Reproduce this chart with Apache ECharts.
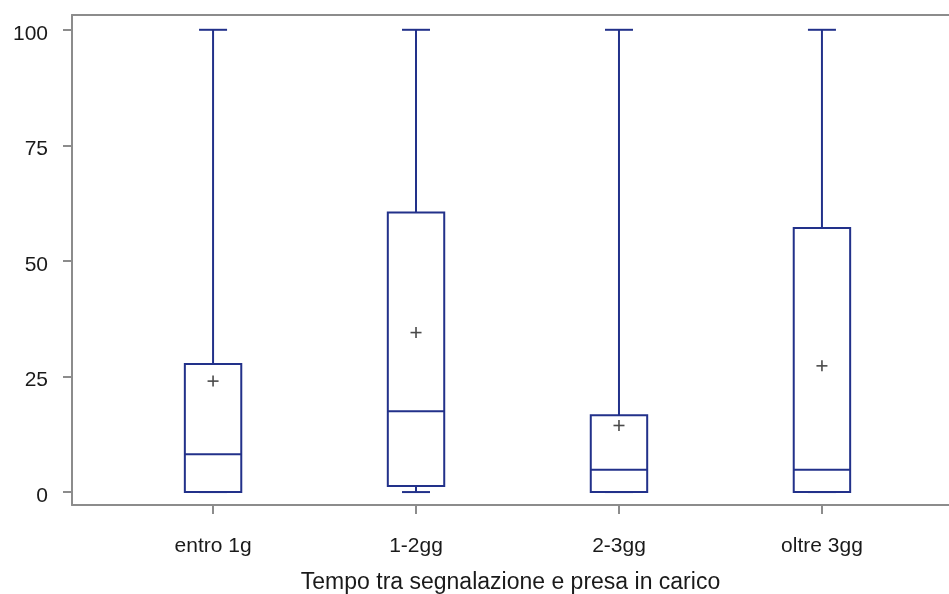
<!DOCTYPE html>
<html>
<head>
<meta charset="utf-8">
<script src="https://cdn.jsdelivr.net/npm/echarts@6/dist/echarts.min.js"></script>
<style>
    html, body { margin: 0; padding: 0; background: #fff; }
    #chart { width: 949px; height: 594px; }
</style>
</head>
<body>
<div id="chart"></div>
<script>
    // dati
    const categories = ['entro 1g', '1-2gg', '2-3gg', 'oltre 3gg']
    const whiskerLow = [0, 0, 0, 0]
    const q1 = [0, 1.3, 0, 0]
    const median = [8.2, 17.5, 4.8, 4.8]
    const q3 = [27.7, 60.5, 16.6, 57.1]
    const whiskerHigh = [100, 100, 100, 100]
    const means = [24.0, 34.5, 14.4, 27.3]
    const yTicks = [0, 25, 50, 75, 100]

    const boxColor = '#22318a'
    const axisColor = '#8c8c8c'
    const textColor = '#1a1a1a'
    const font = 'Liberation Sans, Arial, sans-serif'

    const boxData = categories.map((c, i) => [i, whiskerLow[i], q1[i], median[i], q3[i], whiskerHigh[i]])
    const meanData = categories.map((c, i) => [i, means[i]])

    function renderBox(params, api) {
        const i = api.value(0)
        const unit = api.size([1, 0])[0]
        const half = unit * 0.139
        const capHalf = unit * 0.069
        const lo = api.coord([i, api.value(1)])
        const b1 = api.coord([i, api.value(2)])
        const md = api.coord([i, api.value(3)])
        const b3 = api.coord([i, api.value(4)])
        const hi = api.coord([i, api.value(5)])
        const x = lo[0]
        const style = { stroke: boxColor, lineWidth: 2, fill: null }
        const line = (x1, y1, x2, y2) => ({ type: 'line', shape: { x1, y1, x2, y2 }, style })
        return {
            type: 'group',
            children: [
                line(x, b3[1], x, hi[1]),
                line(x - capHalf, hi[1], x + capHalf, hi[1]),
                line(x, b1[1], x, lo[1]),
                line(x - capHalf, lo[1], x + capHalf, lo[1]),
                { type: 'rect', shape: { x: x - half, y: b3[1], width: half * 2, height: b1[1] - b3[1] }, style },
                line(x - half, md[1], x + half, md[1])
            ]
        }
    }

    function renderMean(params, api) {
        const p = api.coord([api.value(0), api.value(1)])
        const s = 5.5
        const style = { stroke: '#4a4a4a', lineWidth: 1.6 }
        return {
            type: 'group',
            children: [
                { type: 'line', shape: { x1: p[0] - s, y1: p[1], x2: p[0] + s, y2: p[1] }, style },
                { type: 'line', shape: { x1: p[0], y1: p[1] - s, x2: p[0], y2: p[1] + s }, style }
            ]
        }
    }

    const chart = echarts.init(document.getElementById('chart'))
    chart.setOption({
        animation: false,
        grid: { left: 72, right: 0, top: 15, bottom: 89, containLabel: false, outerBoundsMode: 'none' },
        xAxis: [
            {
                type: 'value',
                min: -0.695,
                max: 3.626,
                position: 'bottom',
                splitLine: { show: false },
                axisLine: { show: true, onZero: false, lineStyle: { color: axisColor, width: 2 } },
                axisTick: { show: true, customValues: [0, 1, 2, 3], length: 9, lineStyle: { color: axisColor, width: 2 } },
                axisLabel: {
                    customValues: [0, 1, 2, 3],
                    formatter: v => categories[Math.round(v)],
                    margin: 31,
                    fontSize: 21,
                    fontFamily: font,
                    color: textColor
                },
                name: 'Tempo tra segnalazione e presa in carico',
                nameLocation: 'middle',
                nameGap: 66,
                nameTextStyle: { fontSize: 23, fontFamily: font, color: textColor }
            },
            {
                type: 'value',
                min: -0.695,
                max: 3.626,
                position: 'top',
                splitLine: { show: false },
                axisLine: { show: true, onZero: false, lineStyle: { color: axisColor, width: 2 } },
                axisTick: { show: false },
                axisLabel: { show: false }
            }
        ],
        yAxis: {
            type: 'value',
            min: -2.8,
            max: 103.2,
            splitLine: { show: false },
            axisLine: { show: true, onZero: false, lineStyle: { color: axisColor, width: 2 } },
            axisTick: { show: true, customValues: yTicks, length: 9, lineStyle: { color: axisColor, width: 2 } },
            axisLabel: {
                customValues: yTicks,
                margin: 24,
                verticalAlign: 'top',
                lineHeight: 8,
                fontSize: 21,
                fontFamily: font,
                color: textColor
            }
        },
        series: [
            { type: 'custom', renderItem: renderBox, data: boxData, encode: { x: 0, y: [1, 2, 3, 4, 5] } },
            { type: 'custom', renderItem: renderMean, data: meanData, encode: { x: 0, y: 1 } }
        ]
    })
</script>
</body>
</html>
